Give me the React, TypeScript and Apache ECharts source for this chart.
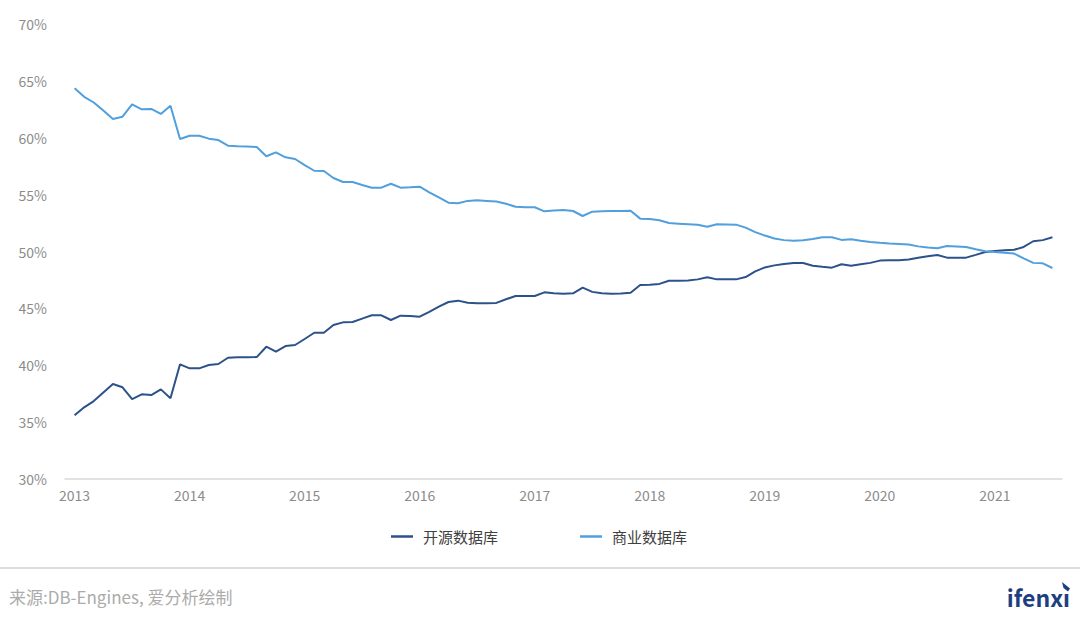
import React, { useEffect, useRef } from "react";
import * as echarts from "echarts";

const years = [2013, 2014, 2015, 2016, 2017, 2018, 2019, 2020, 2021];
const lastMonth2021 = 7;

const seriesNames = ["开源数据库", "商业数据库"];

const openSource = [
  35.6, 36.3, 36.85, 37.6, 38.35, 38.06, 37.03, 37.44, 37.38, 37.88, 37.1, 40.08,
  39.73, 39.73, 40.02, 40.11, 40.66, 40.7, 40.7, 40.72, 41.63, 41.19, 41.69, 41.78,
  42.31, 42.86, 42.86, 43.54, 43.77, 43.8, 44.1, 44.39, 44.39, 43.98, 44.36, 44.32,
  44.27, 44.7, 45.15, 45.56, 45.68, 45.5, 45.44, 45.46, 45.48, 45.8, 46.09, 46.09,
  46.09, 46.41, 46.33, 46.29, 46.32, 46.82, 46.45, 46.33, 46.29, 46.3, 46.38, 47.05,
  47.08, 47.15, 47.43, 47.43, 47.45, 47.55, 47.73, 47.55, 47.55, 47.55, 47.75, 48.25,
  48.6, 48.78, 48.9, 48.99, 48.99, 48.75, 48.65, 48.58, 48.88, 48.75, 48.88, 49.0,
  49.2, 49.23, 49.23, 49.3, 49.45, 49.58, 49.69, 49.46, 49.46, 49.46, 49.7, 49.95,
  50.05, 50.1, 50.15, 50.4, 50.9, 51.0, 51.25,
];

const commercial = [
  64.35, 63.6, 63.1, 62.4, 61.65, 61.85, 62.94, 62.5, 62.53, 62.09, 62.82, 59.89,
  60.18, 60.18, 59.92, 59.8, 59.3, 59.25, 59.22, 59.19, 58.37, 58.72, 58.28, 58.13,
  57.6, 57.1, 57.08, 56.46, 56.11, 56.11, 55.85, 55.61, 55.61, 55.96, 55.61, 55.65,
  55.7, 55.2, 54.75, 54.29, 54.24, 54.45, 54.5, 54.45, 54.4, 54.2, 53.94, 53.9,
  53.89, 53.53, 53.6, 53.65, 53.56, 53.12, 53.5, 53.53, 53.55, 53.57, 53.59, 52.89,
  52.85, 52.75, 52.5, 52.45, 52.4, 52.35, 52.18, 52.4, 52.38, 52.36, 52.1, 51.7,
  51.4, 51.15, 51.0, 50.95, 50.98, 51.1, 51.25, 51.25, 51.02, 51.07, 50.95, 50.84,
  50.76, 50.7, 50.66, 50.62, 50.45, 50.35, 50.28, 50.48, 50.44, 50.4, 50.2, 50.02,
  49.95, 49.9, 49.82, 49.4, 49.0, 48.96, 48.55,
];

const yMin = 30;
const yMax = 70;
const yInterval = 5;

const sourceText = "来源:DB-Engines, 爱分析绘制";
const logoText = "ifenx\u0131";

const FONT = '"Noto Sans CJK SC", "Noto Sans", sans-serif';

function buildMonths(): string[] {
  const out: string[] = [];
  for (const y of years) {
    const last = y === years[years.length - 1] ? lastMonth2021 : 12;
    for (let m = 1; m <= last; m++) out.push(`${y}-${m < 10 ? "0" + m : m}`);
  }
  return out;
}

export default function App() {
  const ref = useRef<HTMLDivElement>(null);

  useEffect(() => {
    if (!ref.current) return;
    const chart = echarts.init(ref.current, undefined, { renderer: "svg" });
    const months = buildMonths();
    const categories = ["", ...months, ""];
    const pad = (arr: number[]) => [null, ...arr, null];

    chart.setOption({
      animation: false,
      backgroundColor: "#ffffff",
      textStyle: { fontFamily: FONT },
      grid: { left: 65, right: 18, top: 24, bottom: 140, containLabel: false },
      legend: {
        data: seriesNames.map((n) => ({ name: n, icon: "rect" })),
        left: 386,
        top: 524,
        itemWidth: 22,
        itemHeight: 2.5,
        itemGap: 82,
        textStyle: { fontSize: 15, color: "#404040", fontFamily: FONT, padding: [0, 0, 0, 5] },
      },
      xAxis: {
        type: "category",
        data: categories,
        boundaryGap: false,
        axisLine: { show: true, lineStyle: { color: "#d9d9d9", width: 1.5 } },
        axisTick: { show: false },
        splitLine: { show: false },
        axisLabel: {
          interval: (_i: number, v: string) => typeof v === "string" && v.endsWith("-01"),
          formatter: (v: string) => (v ? v.slice(0, 4) : ""),
          color: "#8c8c8c",
          fontSize: 14,
          margin: 9,
          fontFamily: FONT,
        },
      },
      yAxis: {
        type: "value",
        min: yMin,
        max: yMax,
        interval: yInterval,
        axisLine: { show: false },
        axisTick: { show: false },
        splitLine: { show: false },
        axisLabel: {
          formatter: "{value}%",
          color: "#8c8c8c",
          fontSize: 14,
          margin: 18,
          fontFamily: FONT,
        },
      },
      series: [
        {
          name: seriesNames[0],
          type: "line",
          data: pad(openSource),
          symbol: "none",
          showSymbol: false,
          lineStyle: { width: 2, color: "#2d5189" },
          itemStyle: { color: "#2d5189" },
        },
        {
          name: seriesNames[1],
          type: "line",
          data: pad(commercial),
          symbol: "none",
          showSymbol: false,
          lineStyle: { width: 2, color: "#519fdc" },
          itemStyle: { color: "#519fdc" },
        },
      ],
      graphic: [
        {
          type: "line",
          shape: { x1: 0, y1: 568, x2: 1080, y2: 568 },
          style: { stroke: "#dcdcdc", lineWidth: 2 },
        },
        {
          type: "text",
          x: 9,
          y: 596,
          style: {
            text: sourceText,
            fill: "#ababab",
            font: `17px ${FONT}`,
            textVerticalAlign: "middle",
            verticalAlign: "middle",
          },
        },
        {
          type: "text",
          x: 1070,
          y: 597,
          style: {
            text: logoText,
            fill: "#1d3f82",
            font: `bold 23px ${FONT}`,
            align: "right",
            textAlign: "right",
            verticalAlign: "middle",
            textVerticalAlign: "middle",
          },
        },
        {
          type: "polygon",
          shape: { points: [[1062, 582], [1070, 588.5], [1068, 591.5], [1063.5, 588]] },
          style: { fill: "#1d3f82" },
        },
      ],
    });

    return () => chart.dispose();
  }, []);

  return (
    <div
      ref={ref}
      style={{ position: "fixed", left: 0, top: 0, width: 1080, height: 619, background: "#fff" }}
    />
  );
}
